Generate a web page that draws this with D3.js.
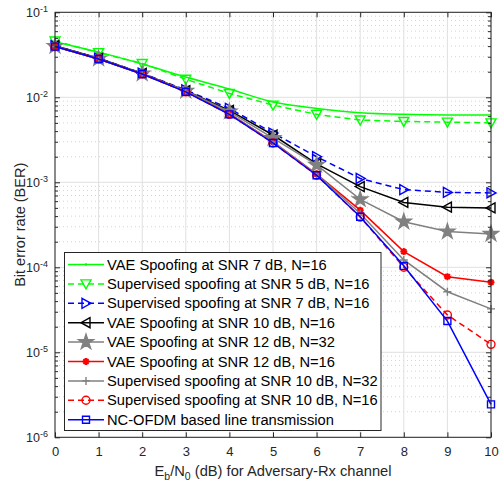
<!DOCTYPE html>
<html>
<head>
<meta charset="utf-8">
<script src="https://cdn.jsdelivr.net/npm/d3@7"></script>
<style>
  html, body { margin: 0; padding: 0; background: #fff; }
  svg { display: block; font-family: "Liberation Sans", Arial, Helvetica, sans-serif; }
</style>
</head>
<body>
<svg id="chart" width="500" height="484"></svg>
<script>
// Eb/N0 sweep (dB)
const ebn0 = [0, 1, 2, 3, 4, 5, 6, 7, 8, 9, 10];

// BER curves
const vae7n16 = [0.0448, 0.034, 0.0247, 0.0173, 0.0125, 0.0088, 0.0074, 0.0066, 0.0063, 0.0062, 0.0062];
const sup5n16 = [0.046, 0.0335, 0.025, 0.0163, 0.0111, 0.0081, 0.0063, 0.0054, 0.0052, 0.0051, 0.0050];
const sup7n16 = [0.0405, 0.0288, 0.0192, 0.0122, 0.0074, 0.0038, 0.0020, 0.00111, 0.00082, 0.00076, 0.00075];
const vae10n16 = [0.0405, 0.0288, 0.0191, 0.0120, 0.0070, 0.0036, 0.00165, 0.00089, 0.00058, 0.00051, 0.00050];
const vae12n32 = [0.040, 0.0285, 0.019, 0.0119, 0.0068, 0.0033, 0.0016, 0.00063, 0.000344, 0.000263, 0.000247];
const vae12n16 = [0.0395, 0.0282, 0.0188, 0.0117, 0.0064, 0.0030, 0.00125, 0.00047, 0.000153, 0.0000776, 0.0000667];
const sup10n32 = [0.0395, 0.0282, 0.0188, 0.0117, 0.0064, 0.0030, 0.00125, 0.00043, 0.000122, 0.0000516, 0.0000324];
const sup10n16 = [0.0395, 0.0282, 0.0188, 0.0116, 0.0063, 0.0029, 0.00121, 0.00039, 0.000100, 0.0000275, 0.0000124];
const ncofdm = [0.0395, 0.0282, 0.0188, 0.0116, 0.0063, 0.0029, 0.00121, 0.000394, 0.000104, 0.0000233, 0.00000244];

// Axis ticks
const xTicks = [0, 1, 2, 3, 4, 5, 6, 7, 8, 9, 10];
const yExponents = [-6, -5, -4, -3, -2, -1];

const seriesLabels = [
  "VAE Spoofing at SNR 7 dB, N=16",
  "Supervised spoofing at SNR 5 dB, N=16",
  "Supervised spoofing at SNR 7 dB, N=16",
  "VAE Spoofing at SNR 10 dB, N=16",
  "VAE Spoofing at SNR 12 dB, N=32",
  "VAE Spoofing at SNR 12 dB, N=16",
  "Supervised spoofing at SNR 10 dB, N=32",
  "Supervised spoofing at SNR 10 dB, N=16",
  "NC-OFDM based line transmission"
];

const series = [
  { label: seriesLabels[0], values: vae7n16, color: "#00ff00", dash: null, marker: "none", smooth: true },
  { label: seriesLabels[1], values: sup5n16, color: "#00ff00", dash: "6,4", marker: "tridown" },
  { label: seriesLabels[2], values: sup7n16, color: "#0000ff", dash: "6,4", marker: "triright" },
  { label: seriesLabels[3], values: vae10n16, color: "#000000", dash: null, marker: "trileft" },
  { label: seriesLabels[4], values: vae12n32, color: "#808080", dash: null, marker: "star" },
  { label: seriesLabels[5], values: vae12n16, color: "#ff0000", dash: null, marker: "asterisk" },
  { label: seriesLabels[6], values: sup10n32, color: "#808080", dash: null, marker: "plus" },
  { label: seriesLabels[7], values: sup10n16, color: "#ff0000", dash: "6,4", marker: "circle" },
  { label: seriesLabels[8], values: ncofdm, color: "#0000ff", dash: null, marker: "square" }
];

const svg = d3.select("#chart");
const mLeft = 55, mRight = 491, mTop = 12.3, mBottom = 437.3;
const axisColor = "#262626";

const x = d3.scaleLinear().domain([0, 10]).range([mLeft, mRight]);
const y = d3.scaleLog().domain([1e-6, 1e-1]).range([mBottom, mTop]);

// minor decade values 2..9 × 10^k
const minorVals = [];
yExponents.slice(0, -1).forEach(e => {
  for (let m = 2; m <= 9; m++) minorVals.push(m * Math.pow(10, e));
});
const majorVals = yExponents.map(e => Math.pow(10, e));

// grid
const grid = svg.append("g");
grid.selectAll(".ymin").data(minorVals).join("line")
  .attr("x1", mLeft).attr("x2", mRight)
  .attr("y1", d => y(d)).attr("y2", d => y(d))
  .attr("stroke", "#d4d4d4").attr("stroke-width", 1).attr("stroke-dasharray", "1,3");
grid.selectAll(".ymaj").data(majorVals).join("line")
  .attr("x1", mLeft).attr("x2", mRight)
  .attr("y1", d => y(d)).attr("y2", d => y(d))
  .attr("stroke", "#e0e0e0").attr("stroke-width", 1);
grid.selectAll(".xmaj").data(xTicks).join("line")
  .attr("x1", d => x(d)).attr("x2", d => x(d))
  .attr("y1", mTop).attr("y2", mBottom)
  .attr("stroke", "#e0e0e0").attr("stroke-width", 1);

// marker shapes
function markerPath(type) {
  switch (type) {
    case "tridown": return "M-5,-4L5,-4L0,5Z";
    case "triright": return "M-4,-5L5,0L-4,5Z";
    case "trileft": return "M4,-5L-5,0L4,5Z";
    case "square": return "M-3.5,-3.5H3.5V3.5H-3.5Z";
    case "circle": return d3.symbol(d3.symbolCircle, 50)();
    case "star": return d3.symbol(d3.symbolStar, 70)();
    case "plus": return "M-4,0H4M0,-4V4";
    case "asterisk": return "M-3.5,0H3.5M0,-3.5V3.5M-2.5,-2.5L2.5,2.5M-2.5,2.5L2.5,-2.5";
    default: return null;
  }
}
function drawMarker(g, s, cx, cy) {
  const p = markerPath(s.marker);
  if (!p) return;
  const m = g.append("path").attr("d", p)
    .attr("transform", `translate(${cx},${cy})`)
    .attr("stroke", s.color).attr("stroke-width", 1.4);
  if (s.marker === "star") m.attr("fill", s.color);
  else if (s.marker === "asterisk") { m.attr("fill", "none").attr("stroke-width", 2); }
  else m.attr("fill", "none");
}

// curves
const plot = svg.append("g");
series.forEach(s => {
  const pts = ebn0.map((e, i) => [e, s.values[i]]);
  const line = d3.line().x(d => x(d[0])).y(d => y(d[1]))
    .curve(s.smooth ? d3.curveMonotoneX : d3.curveLinear);
  plot.append("path").datum(pts).attr("d", line)
    .attr("fill", "none").attr("stroke", s.color).attr("stroke-width", 1.5)
    .attr("stroke-dasharray", s.dash);
  pts.forEach(d => drawMarker(plot, s, x(d[0]), y(d[1])));
});

// axes (ticks pointing inward)
const xAxis = svg.append("g").attr("transform", `translate(0,${mBottom})`)
  .call(d3.axisBottom(x).tickValues(xTicks).tickSizeInner(-5).tickSizeOuter(0).tickPadding(9).tickFormat(d3.format("d")));
const xAxisTop = svg.append("g").attr("transform", `translate(0,${mTop})`)
  .call(d3.axisTop(x).tickValues(xTicks).tickSizeInner(-5).tickSizeOuter(0).tickFormat(""));
const yAxis = svg.append("g").attr("transform", `translate(${mLeft},0)`)
  .call(d3.axisLeft(y).tickValues(majorVals).tickSizeInner(-5).tickSizeOuter(0).tickPadding(9).tickFormat(""));
const yAxisMinor = svg.append("g").attr("transform", `translate(${mLeft},0)`)
  .call(d3.axisLeft(y).tickValues(minorVals).tickSizeInner(-3).tickSizeOuter(0).tickFormat(""));
const yAxisR = svg.append("g").attr("transform", `translate(${mRight},0)`)
  .call(d3.axisRight(y).tickValues(majorVals).tickSizeInner(-5).tickSizeOuter(0).tickFormat(""));
const yAxisRMinor = svg.append("g").attr("transform", `translate(${mRight},0)`)
  .call(d3.axisRight(y).tickValues(minorVals).tickSizeInner(-3).tickSizeOuter(0).tickFormat(""));

[xAxis, xAxisTop, yAxis, yAxisMinor, yAxisR, yAxisRMinor].forEach(a => {
  a.select(".domain").remove();
  a.selectAll("line").attr("stroke", axisColor);
  a.selectAll("text").attr("fill", axisColor).attr("font-size", 13)
    .attr("font-family", "Liberation Sans, Arial, sans-serif");
});

// y tick labels 10^k
yAxis.selectAll(".tick").each(function(d) {
  const t = d3.select(this).select("text");
  t.text(null).attr("x", -7).attr("dy", "0.35em").attr("text-anchor", "end").attr("font-size", 12.5);
  t.append("tspan").text("10");
  t.append("tspan").text(Math.round(Math.log10(d))).attr("font-size", 9).attr("dy", "-0.55em");
});

// axes box
svg.append("rect").attr("x", mLeft).attr("y", mTop)
  .attr("width", mRight - mLeft).attr("height", mBottom - mTop)
  .attr("fill", "none").attr("stroke", axisColor).attr("stroke-width", 1);

// axis titles
const xt = svg.append("text").attr("x", (mLeft + mRight) / 2).attr("y", 476)
  .attr("text-anchor", "middle").attr("font-size", 14.7).attr("fill", axisColor);
xt.append("tspan").text("E");
xt.append("tspan").text("b").attr("font-size", 10.5).attr("dy", 4);
xt.append("tspan").text("/N").attr("dy", -4);
xt.append("tspan").text("0").attr("font-size", 10.5).attr("dy", 4);
xt.append("tspan").text(" (dB) for Adversary-Rx channel").attr("dy", -4);

svg.append("text").attr("transform", `translate(24.5,${(mTop + mBottom) / 2}) rotate(-90)`)
  .attr("text-anchor", "middle").attr("font-size", 14.5).attr("fill", axisColor)
  .text("Bit error rate (BER)");

// legend
const lg = svg.append("g");
const lgX = 64.5, lgY = 252.5, lgW = 316.5, lgH = 178, rowH = 19.4, firstRow = 264.5;
lg.append("rect").attr("x", lgX).attr("y", lgY).attr("width", lgW).attr("height", lgH)
  .attr("fill", "#fff").attr("stroke", axisColor).attr("stroke-width", 1);
series.forEach((s, i) => {
  const cy = firstRow + i * rowH;
  lg.append("line").attr("x1", 68).attr("x2", 104).attr("y1", cy).attr("y2", cy)
    .attr("stroke", s.color).attr("stroke-width", 1.5).attr("stroke-dasharray", s.dash);
  if (s.marker === "none") {
    lg.append("circle").attr("cx", 86).attr("cy", cy).attr("r", 1.2).attr("fill", s.color);
  } else {
    drawMarker(lg, s, 86, cy);
  }
  lg.append("text").attr("x", 107).attr("y", cy).attr("dy", "0.35em")
    .attr("font-size", 14.7).attr("fill", "#000").text(s.label);
});
</script>
</body>
</html>
